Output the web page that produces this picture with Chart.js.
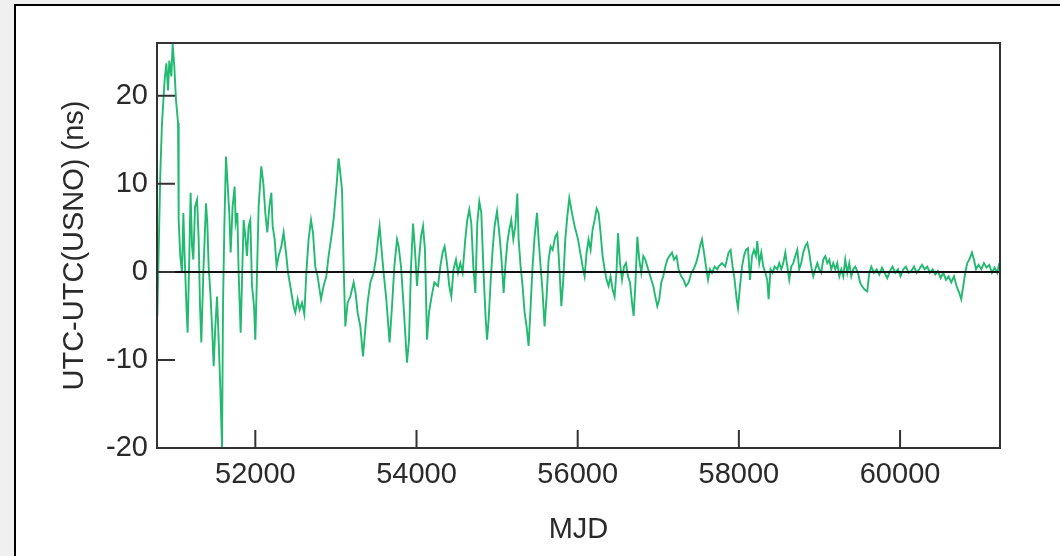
<!DOCTYPE html>
<html>
<head>
<meta charset="utf-8">
<script src="https://cdn.jsdelivr.net/npm/chart.js@4.4.1/dist/chart.umd.min.js"></script>
<style>
html, body { margin: 0; padding: 0; background: #f0f0f0; overflow: hidden; }
#panel { position: absolute; left: 14px; top: 4px; width: 1100px; height: 600px; border: 2px solid #000; background: #fff; }
#wrap { position: absolute; left: 0; top: 0; width: 1060px; height: 556px; }
</style>
</head>
<body>
<div id="panel"></div>
<div id="wrap"><canvas id="chart" width="1060" height="556"></canvas></div>
<script>
// MJD of each sample and UTC-UTC(USNO) in ns
var mjd = [
  50784,50821,50842,50875,50896,50917,50933,50958,50974,50995,
  51016,51041,51049,51069,51090,51107,51123,51148,51160,51181,
  51197,51215,51231,51252,51277,51297,51314,51330,51355,51371,
  51388,51404,51421,51442,51463,51483,51504,51525,51545,51566,
  51587,51599,51615,51636,51653,51677,51694,51718,51743,51756,
  51777,51793,51818,51835,51855,51876,51897,51917,51938,51959,
  51984,52000,52016,52041,52074,52099,52124,52149,52174,52199,
  52215,52240,52264,52289,52323,52351,52381,52406,52434,
  52475,52496,52525,52550,52579,52608,52633,52661,52691,52716,
  52744,52773,52815,52847,52881,52909,52939,52971,52993,53014,
  53033,53055,53076,53096,53117,53145,53179,53220,53244,53269,
  53303,53336,53361,53393,53427,53468,53501,53522,53542,53563,
  53592,53625,53666,53696,53725,53758,53778,53808,53840,53882,
  53907,53932,53957,53981,54006,54031,54056,54081,54105,54130,
  54155,54187,54221,
  54267,54295,54324,54349,54378,54407,54432,54460,54490,54515,
  54543,54572,54605,54630,54655,54680,54705,54730,54754,54779,
  54804,54829,54854,54875,54895,54919,54944,54969,54999,55027,
  55052,55081,55102,55127,55151,55176,55201,55226,55251,55267,
  55292,55316,55341,55366,55391,55416,55440,55465,55495,55515,
  55540,55565,55589,55614,55639,55664,55689,55722,55747,55772,
  55797,55821,55846,55871,55896,55929,55962,
  56004,56032,56061,56086,56110,56135,56160,56185,56210,56235,
  56259,56284,56309,56334,56359,56383,56408,56433,56458,56483,
  56500,56525,56550,56575,56599,56624,56649,56674,56694,56715,
  56740,56764,56789,56814,56839,56864,56888,56913,56938,56963,
  56988,57012,57037,57062,57087,57112,57137,57170,57195,57227,
  57252,57285,57314,57344,57376,57410,57438,57468,57493,57517,
  57542,57567,57592,57617,57641,57666,57699,57732,
  57748,57790,57831,57872,57897,57922,57947,57972,57989,58014,
  58039,58063,58088,58113,58138,58163,58187,58212,58228,58253,
  58278,58303,58328,58352,58369,58393,58418,58443,58476,58501,
  58526,58551,58576,58601,58625,58650,58675,58700,58725,58749,
  58774,58799,58824,58849,58873,58898,58923,58948,58973,58998,
  59022,59047,59072,59097,59122,59146,59171,59196,59221,59246,
  59271,59295,59320,59345,59370,59395,59419,59444,
  59478,59503,59527,59560,59593,59618,59643,59676,59709,59742,
  59776,59808,59841,59875,59907,59941,59974,60006,60040,60073,
  60106,60139,60173,60205,60238,60272,60304,60338,60371,60403,
  60437,60470,60503,60536,60570,60602,60635,60669,60701,60735,
  60759,60784,60809,60834,60859,60892,60917,60942,60974,61008,
  61041,61073,61107,61140,61173,61206,61231
];
var utcOffset = [
  -5.0,11.2,16.9,21.8,23.7,20.6,24.0,22.2,25.9,23.3,
  19.5,16.9,5.9,1.8,-0.1,6.7,1.8,-4.6,-6.9,1.8,
  9.0,2.9,1.4,7.4,8.2,3.7,-3.9,-8.0,-0.1,3.7,
  7.8,5.6,0.6,-2.4,-6.2,-10.7,-6.2,-2.8,-7.7,-13.3,
  -19.9,-3.9,4.8,13.1,10.5,6.7,2.2,7.4,9.7,5.6,
  6.7,-0.1,-6.9,-0.9,5.9,4.0,1.8,5.2,5.9,-1.6,
  -3.9,-7.7,-2.0,7.4,12.0,10.1,6.7,4.5,7.4,9.0,
  5.2,3.7,0.6,1.8,2.9,4.5,2.2,-0.1,-1.6,
  -3.9,-4.6,-3.1,-4.3,-3.5,-4.8,-0.1,3.7,5.9,4.4,
  0.6,-0.5,-3.1,-1.6,-0.5,1.8,3.7,5.9,8.2,10.5,
  12.9,11.2,9.3,0.6,-6.2,-3.5,-2.8,-1.2,-2.4,-4.6,
  -6.2,-9.6,-6.9,-3.5,-1.2,-0.1,1.8,3.7,5.2,2.9,
  -0.1,-3.1,-8.0,-3.9,0.6,3.7,2.9,0.6,-3.9,-10.3,
  -7.7,0.6,5.5,2.5,-1.6,1.4,4.0,5.2,2.5,-7.7,
  -4.6,-2.8,-1.2,
  -1.6,0.6,2.2,2.9,1.0,-1.6,-2.8,0.3,1.4,-0.1,
  1.0,-0.1,3.7,5.9,7.1,5.5,0.6,-2.4,5.5,8.0,
  6.7,0.6,-4.6,-7.7,-5.4,-1.2,2.5,5.2,6.9,4.4,
  1.8,-2.4,0.6,3.3,4.8,5.9,3.7,5.2,8.9,3.7,
  0.6,-1.6,-4.6,-6.2,-8.4,-3.9,0.6,4.0,6.7,3.7,
  0.6,-2.4,-6.2,-2.8,1.4,2.9,2.5,4.0,4.4,0.6,
  -3.9,-0.9,3.7,6.3,8.4,6.7,5.2,
  3.7,2.2,0.6,-0.5,2.2,3.7,2.5,4.8,5.9,7.2,
  6.7,4.4,1.8,0.3,-0.9,-1.6,-0.5,-2.0,-2.8,0.3,
  4.4,1.0,-0.9,0.6,1.0,-0.5,-1.2,-3.5,-5.0,-1.6,
  4.0,1.4,-0.1,1.8,1.4,0.6,-0.1,-0.9,-1.6,-2.8,
  -3.9,-3.1,-1.2,-0.5,0.6,1.4,1.8,2.2,1.4,1.8,
  0.3,-0.5,-0.9,-1.6,-1.2,-0.1,0.3,1.0,1.8,2.9,
  3.7,2.2,0.6,-0.9,0.3,-0.1,0.6,0.3,
  0.6,1.0,0.6,2.2,2.5,0.6,-0.9,-3.1,-4.1,-1.6,
  0.6,1.8,2.5,2.7,-0.9,1.8,2.5,1.8,3.5,1.0,
  2.2,0.6,-0.1,-0.9,-3.1,0.3,-0.1,0.6,0.3,1.0,
  0.3,1.0,2.2,0.6,-0.9,0.6,1.0,1.8,2.5,0.3,
  1.0,2.2,2.9,3.3,2.2,0.6,-0.5,0.3,1.0,0.3,
  -0.1,1.4,1.8,1.0,1.4,0.3,1.0,0.3,1.0,-0.5,
  0.3,-0.5,1.4,-0.1,1.0,-0.5,0.3,0.6,
  -0.1,-1.2,-1.6,-2.0,-2.2,-0.1,0.6,-0.1,0.3,-0.3,
  0.5,-0.1,-0.7,0.1,0.6,-0.1,0.3,-0.5,0.3,0.6,
  -0.1,0.1,0.6,-0.1,0.3,0.8,0.3,0.6,-0.1,0.3,
  -0.3,0.1,-0.7,-0.1,-0.9,-0.5,-1.2,-0.5,-1.6,-2.4,
  -3.1,-1.6,-0.1,1.0,1.4,2.2,1.4,0.3,0.8,0.3,
  1.0,0.5,0.8,-0.1,0.5,-0.1,1.0
];
var xTicks = [52000, 54000, 56000, 58000, 60000];
var yTicks = [-20, -10, 0, 10, 20];

var FONT = "'Liberation Sans', Arial, sans-serif";
var points = mjd.map(function (m, i) { return { x: m, y: utcOffset[i] }; });

// inward ticks, zero line and box round the plot
var framePlugin = {
  id: 'frame',
  afterDatasetsDraw: function (chart) {
    var ctx = chart.ctx, a = chart.chartArea;
    var xs = chart.scales.x, ys = chart.scales.y;
    ctx.save();
    ctx.strokeStyle = '#111';
    ctx.lineWidth = 2;
    var y0 = ys.getPixelForValue(0);
    ctx.beginPath();
    ctx.moveTo(a.left, y0);
    ctx.lineTo(a.right, y0);
    ctx.stroke();
    ctx.strokeStyle = '#333';
    ctx.beginPath();
    yTicks.forEach(function (v) {
      var py = ys.getPixelForValue(v);
      ctx.moveTo(a.left, py);
      ctx.lineTo(a.left + 18, py);
    });
    xTicks.forEach(function (v) {
      var px = xs.getPixelForValue(v);
      ctx.moveTo(px, a.bottom);
      ctx.lineTo(px, a.bottom - 18);
    });
    ctx.stroke();
    ctx.strokeRect(a.left, a.top, a.right - a.left, a.bottom - a.top);
    ctx.restore();
  }
};

new Chart(document.getElementById('chart'), {
  type: 'line',
  data: {
    datasets: [{
      data: points,
      borderColor: 'rgb(34,186,112)',
      borderWidth: 1.9,
      pointRadius: 0,
      tension: 0,
      fill: false
    }]
  },
  options: {
    responsive: false,
    animation: false,
    devicePixelRatio: 1,
    layout: { padding: { left: 0, top: 43, right: 60, bottom: 0 } },
    plugins: { legend: { display: false }, tooltip: { enabled: false } },
    scales: {
      x: {
        type: 'linear',
        min: 50780,
        max: 61240,
        afterBuildTicks: function (s) { s.ticks = xTicks.map(function (v) { return { value: v }; }); },
        afterFit: function (s) { s.height = 108; },
        grid: { display: false, drawTicks: false },
        border: { display: false },
        ticks: {
          color: '#2a2a2a', padding: 10, maxRotation: 0, autoSkip: false,
          font: { family: FONT, size: 29 },
          callback: function (v) { return String(v); }
        },
        title: {
          display: true, text: 'MJD', color: '#2a2a2a',
          font: { family: FONT, size: 29 }, padding: { top: 0, bottom: 9 }
        }
      },
      y: {
        min: -20,
        max: 26,
        afterBuildTicks: function (s) { s.ticks = yTicks.map(function (v) { return { value: v }; }); },
        afterFit: function (s) { s.width = 157; },
        grid: { display: false, drawTicks: false },
        border: { display: false },
        ticks: {
          color: '#2a2a2a', padding: 9,
          font: { family: FONT, size: 29 },
          callback: function (v) { return String(v); }
        },
        title: {
          display: true, text: 'UTC-UTC(USNO) (ns)', color: '#2a2a2a',
          font: { family: FONT, size: 29 }, padding: { top: 58, bottom: 0 }
        }
      }
    }
  },
  plugins: [framePlugin]
});
</script>
</body>
</html>
